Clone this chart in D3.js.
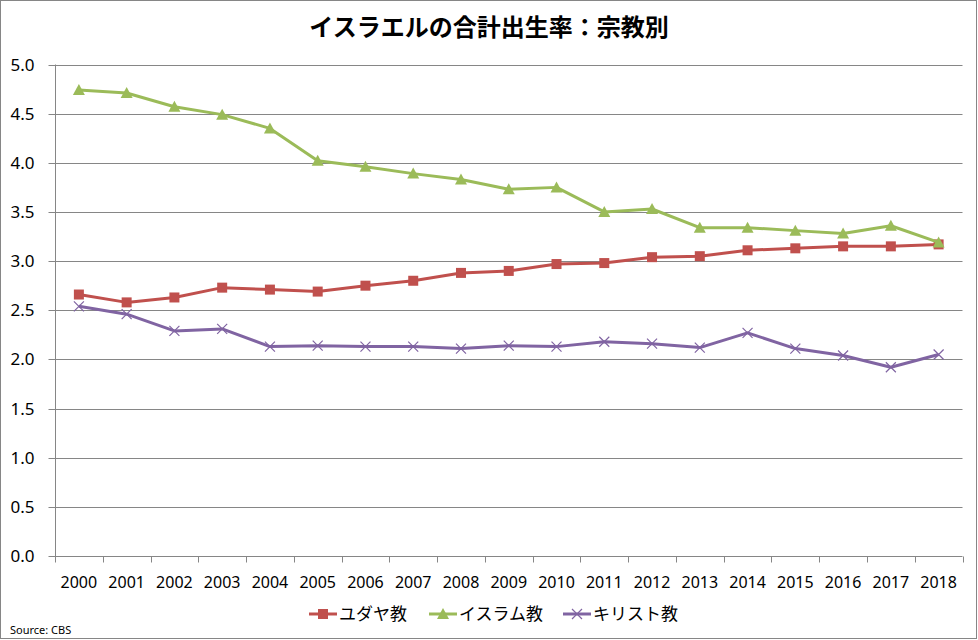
<!DOCTYPE html>
<html><head><meta charset="utf-8">
<script src="https://cdn.jsdelivr.net/npm/d3@7"></script>
<style>body{margin:0;background:#fff;}svg{display:block;}</style>
</head><body>
<script>
const years = ["2000","2001","2002","2003","2004","2005","2006","2007","2008","2009","2010","2011","2012","2013","2014","2015","2016","2017","2018"];
const jewish = [2.66,2.58,2.63,2.73,2.71,2.69,2.75,2.80,2.88,2.90,2.97,2.98,3.04,3.05,3.11,3.13,3.15,3.15,3.17];
const muslim = [4.74,4.71,4.57,4.49,4.35,4.02,3.96,3.89,3.83,3.73,3.75,3.50,3.53,3.34,3.34,3.31,3.28,3.36,3.19];
const christian = [2.54,2.46,2.29,2.31,2.13,2.14,2.13,2.13,2.11,2.14,2.13,2.18,2.16,2.12,2.27,2.11,2.04,1.92,2.05];
const yTicks = [0,0.5,1,1.5,2,2.5,3,3.5,4,4.5,5];
const seriesNames = ["ユダヤ教","イスラム教","キリスト教"];
const title = "イスラエルの合計出生率：宗教別";
const source = "Source: CBS";

(function(){
const W = 978, H = 640;
const svg = d3.select("body").append("svg").attr("width", W).attr("height", H);
svg.append("rect").attr("x",0.5).attr("y",0.5).attr("width",W-2).attr("height",H-2)
  .attr("fill","#fff").attr("stroke","#868686").attr("stroke-width",1);

const pL = 55, pR = 962.5, pT = 64.5, pB = 556;
const x = d3.scaleBand().domain(years).range([pL, pR]);
const y = d3.scaleLinear().domain([0,5]).range([pB, pT]);

// gridlines
svg.append("g").selectAll("line").data(yTicks.filter(d=>d>0)).join("line")
  .attr("x1", pL).attr("x2", pR)
  .attr("y1", d=>Math.round(y(d))+0.5).attr("y2", d=>Math.round(y(d))+0.5)
  .attr("stroke","#868686").attr("stroke-width",1);

// y axis
const yAxis = d3.axisLeft(y).tickValues(yTicks).tickFormat(d3.format(".1f")).tickSize(7).tickPadding(14);
const gy = svg.append("g").attr("transform",`translate(${pL+0.5},0)`).call(yAxis);
gy.select(".domain").attr("stroke","#868686").attr("d",`M0,${pT}V${pB}`);
gy.selectAll(".tick").attr("transform",d=>`translate(0,${Math.round(y(d))+0.5})`);
gy.selectAll(".tick line").attr("stroke","#868686");
gy.selectAll("text").attr("font-family","'Noto Sans', sans-serif").attr("font-size",17).attr("fill","#000");

// x axis
const gx = svg.append("g").attr("transform",`translate(0,${Math.round(pB)+0.5})`);
gx.append("line").attr("x1",pL).attr("x2",pR).attr("stroke","#868686");
const bounds = years.map(d=>x(d)).concat([pR]);
gx.selectAll("line.tk").data(bounds).join("line").attr("class","tk")
  .attr("x1",d=>Math.round(d)+0.5).attr("x2",d=>Math.round(d)+0.5).attr("y1",0).attr("y2",6).attr("stroke","#868686");
gx.selectAll("text").data(years).join("text")
  .attr("x",d=>x(d)+x.bandwidth()/2).attr("y",31).attr("text-anchor","middle")
  .attr("font-family","'Noto Sans', sans-serif").attr("font-size",16).attr("fill","#000").text(d=>d);

const cx = d => x(d)+x.bandwidth()/2;
const colors = ["#C0504D","#9BBB59","#8064A2"];
const data = [jewish, muslim, christian];
const line = d3.line().x((d,i)=>cx(years[i])).y(d=>y(d));

function marker(g, type, color){
  if(type===0){
    g.append("rect").attr("x",-5).attr("y",-5).attr("width",10).attr("height",10).attr("fill",color);
  } else if(type===1){
    g.append("path").attr("d","M0,-6L6,5H-6Z").attr("fill",color);
  } else {
    g.append("path").attr("d","M-5,-5L5,5M-5,5L5,-5").attr("stroke",color).attr("stroke-width",1.2).attr("fill","none");
  }
}

[2,0,1].forEach(s=>{
  svg.append("path").datum(data[s]).attr("d",line).attr("fill","none")
    .attr("stroke",colors[s]).attr("stroke-width",3).attr("stroke-linejoin","round");
  data[s].forEach((v,i)=>{
    const g = svg.append("g").attr("transform",`translate(${cx(years[i])},${y(v)})`);
    marker(g,s,colors[s]);
  });
});

// title
svg.append("text").attr("x",489).attr("y",36).attr("text-anchor","middle")
  .attr("font-family","'Noto Sans CJK JP', sans-serif").attr("font-weight","bold").attr("font-size",24)
  .attr("fill","#000").text(title);

// legend
const legX = [309, 429, 563];
seriesNames.forEach((n,s)=>{
  const g = svg.append("g").attr("transform",`translate(${legX[s]},614)`);
  g.append("line").attr("x1",0).attr("x2",28).attr("stroke",colors[s]).attr("stroke-width",3);
  const m = g.append("g").attr("transform","translate(14,0)");
  marker(m,s,colors[s]);
  g.append("text").attr("x",30).attr("y",6).attr("font-family","'Noto Sans CJK JP', sans-serif")
    .attr("font-size",17).attr("fill","#000").text(n);
});

svg.append("text").attr("x",10).attr("y",634).attr("font-family","'Noto Sans', sans-serif")
  .attr("font-size",11).attr("fill","#000").text(source);
})();
</script>
</body></html>
